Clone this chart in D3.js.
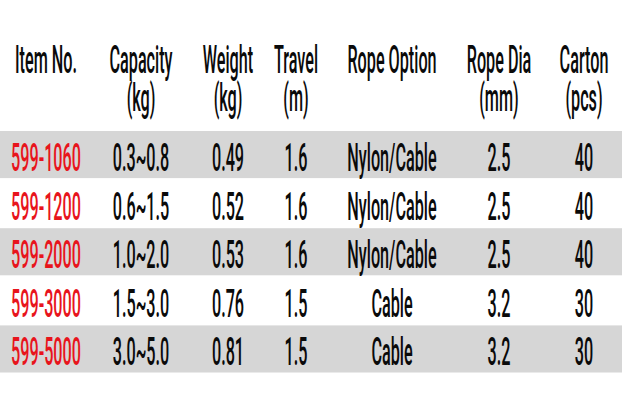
<!DOCTYPE html>
<html><head><meta charset="utf-8">
<script src="https://cdn.jsdelivr.net/npm/d3@7"></script>
<style>
html,body{margin:0;padding:0;background:#fff;}
svg{display:block;}
text{font-family:Roboto,"Liberation Sans",sans-serif;font-weight:500;}
</style></head><body>
<svg id="c" width="622" height="418"></svg>
<script>
const headers1 = ["Item No.","Capacity","Weight","Travel","Rope Option","Rope Dia","Carton"];
const headers2 = ["","(kg)","(kg)","(m)","","(mm)","(pcs)"];
const items = ["599-1060","599-1200","599-2000","599-3000","599-5000"];
const capacity = ["0.3~0.8","0.6~1.5","1.0~2.0","1.5~3.0","3.0~5.0"];
const weight = ["0.49","0.52","0.53","0.76","0.81"];
const travel = ["1.6","1.6","1.6","1.5","1.5"];
const ropeOption = ["Nylon/Cable","Nylon/Cable","Nylon/Cable","Cable","Cable"];
const ropeDia = ["2.5","2.5","2.5","3.2","3.2"];
const carton = ["40","40","40","30","30"];

const columns = [items, capacity, weight, travel, ropeOption, ropeDia, carton];
const colCenters = [46, 141, 228, 296, 392, 499, 584];

const svg = d3.select("#c");
const x = d3.scaleOrdinal().domain(headers1).range(colCenters);
const y = d3.scaleBand().domain(items).range([131, 374]);

const FS = 38;
let SX = 0.46;

svg.selectAll("rect.band").data(items.filter((d,i)=>i%2===0))
  .join("rect").attr("class","band")
  .attr("x",0).attr("width",622)
  .attr("y",d=>y(d)).attr("height",y.bandwidth()-1.5)
  .attr("fill","#d6d6d6");

// calibrate horizontal compression so the item number column matches its width (~70px)
const probe = svg.append("text").attr("font-size",FS).text(items[0]);
const w = probe.node().getComputedTextLength();
probe.remove();
if (w > 0) SX = 70 / w;

function put(g, txt, cx, by, color){
  g.append("text").attr("transform",`translate(${cx},${by}) scale(${SX},1)`)
   .attr("text-anchor","middle").attr("font-size",FS).attr("fill",color).text(txt);
}
const gh = svg.append("g");
headers1.forEach((h,i)=>{ put(gh,h,x(h),73,"#0a0a0a"); if(headers2[i]) put(gh,headers2[i],x(h),111,"#0a0a0a"); });

const gd = svg.append("g");
columns.forEach((col,ci)=>{
  col.forEach((v,ri)=>{
    put(gd, v, x(headers1[ci]), y(items[ri]) + 40, ci===0 ? "#e8141c" : "#0a0a0a");
  });
});
</script></body></html>
